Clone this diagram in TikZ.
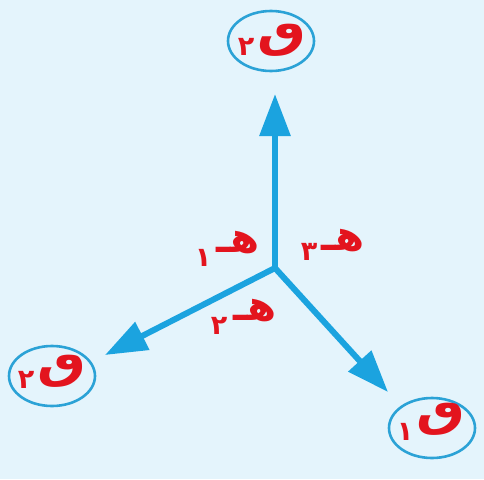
\documentclass[tikz,border=0pt]{standalone}
\usepackage{fontspec}
\usetikzlibrary{arrows.meta,shapes.geometric}
\TeXXeTstate=1
\newfontfamily\arabicfont[Script=Arabic]{DejaVu Sans}
\definecolor{bgblue}{HTML}{E4F4FC}
\definecolor{arrblue}{HTML}{1BA3DF}
\definecolor{ringblue}{HTML}{2BA2D6}
\definecolor{labred}{HTML}{E3141E}
\newcommand{\qletter}{\scalebox{1.3}[1.1]{\beginR ٯ\endR}}
\begin{document}
\begin{tikzpicture}[x=1pt,y=-1pt,
  ring/.style={draw=ringblue,line width=2.6pt,ellipse,minimum width=86pt,minimum height=60pt,inner sep=0pt},
  force/.style={draw=arrblue,line width=6pt,-{Triangle[length=42pt,width=30pt]}},
  lab/.style={text=labred,font=\arabicfont\bfseries\fontsize{42}{42}\selectfont,inner sep=0pt},
  sub/.style={text=labred,font=\arabicfont\bfseries\fontsize{27}{27}\selectfont,inner sep=0pt}]
\fill[bgblue] (0,0) rectangle (484,479);
\useasboundingbox (0,0) rectangle (484,479);
\coordinate (o) at (275,268);
\node[ring] (r2top) at (271,41) {};
\node[ring] (r2left) at (52,376) {};
\node[ring] (r1) at (432,428) {};
\coordinate (tA) at (275,94);
\coordinate (tB) at (105,355);
\coordinate (tC) at (388,392);
\draw[force] (o) -- (tA);
\draw[force] (o) -- (tB);
\draw[force] (o) -- (tC);
% force labels
\node[lab] (q2t) at (282,40) {\qletter};
\node[sub] (q2td) at (246,47) {٢};
\node[lab] (q2l) at (62,371) {\qletter};
\node[sub] (q2ld) at (26,380) {٢};
\node[lab] (q1) at (441,419) {\qletter};
\node[sub] (q1d) at (405,432) {١};
% angle labels
\node[lab] (h1) at (238,243) {\beginR هـ\endR};
\node[sub] (h1d) at (203,258) {١};
\node[lab] (h3) at (343,241) {\beginR هـ\endR};
\node[sub] (h3d) at (309,252) {٣};
\node[lab] (h2) at (255,311) {\beginR هـ\endR};
\node[sub] (h2d) at (219,326) {٢};
\end{tikzpicture}
\end{document}
